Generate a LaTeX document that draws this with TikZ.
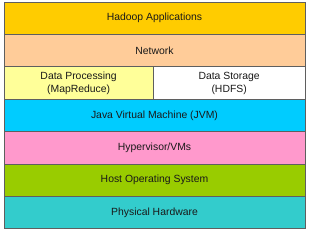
\documentclass[tikz,border=0pt]{standalone}
\usepackage{fontspec}
\setmainfont{Liberation Sans}
\usepackage{xcolor}
\definecolor{Frame}{HTML}{5F5F5F}
\definecolor{AppsFill}{HTML}{FFCC00}
\definecolor{NetFill}{HTML}{FFCC99}
\definecolor{MapRedFill}{HTML}{FFFF99}
\definecolor{JvmFill}{HTML}{00CCFF}
\definecolor{HyperFill}{HTML}{FF99CC}
\definecolor{HostFill}{HTML}{99CC00}
\definecolor{HwFill}{HTML}{33CCCC}
\usetikzlibrary{positioning}

\begin{document}
\begin{tikzpicture}[
  layer/.style={draw=Frame,line width=0.9pt,outer sep=0pt,inner sep=0pt,minimum width=301pt,minimum height=32.4pt,align=center,font=\fontsize{10.4}{13}\selectfont,text=black!90},
  half/.style={layer,minimum width=150.5pt}
]
\useasboundingbox (0,0) rectangle (309pt,-231pt);
\node[layer,fill=AppsFill,anchor=north west] (apps) at (4pt,-2pt) {Hadoop Applications};
\node[layer,fill=NetFill,below=0pt of apps] (net) {Network};
\node[half,fill=MapRedFill,minimum width=149.3pt,below right=0pt and 0pt of net.south west] (mapred) {Data Processing\\(MapReduce)};
\node[half,fill=white,minimum width=151.7pt,below left=0pt and 0pt of net.south east] (hdfs) {Data Storage\\(HDFS)};
\node[layer,fill=JvmFill,below right=0pt and 0pt of mapred.south west] (jvm) {Java Virtual Machine (JVM)};
\node[layer,fill=HyperFill,below=0pt of jvm] (hyper) {Hypervisor/VMs};
\node[layer,fill=HostFill,below=0pt of hyper] (host) {Host Operating System};
\node[layer,fill=HwFill,below=0pt of host] (hw) {Physical Hardware};
\end{tikzpicture}
\end{document}
